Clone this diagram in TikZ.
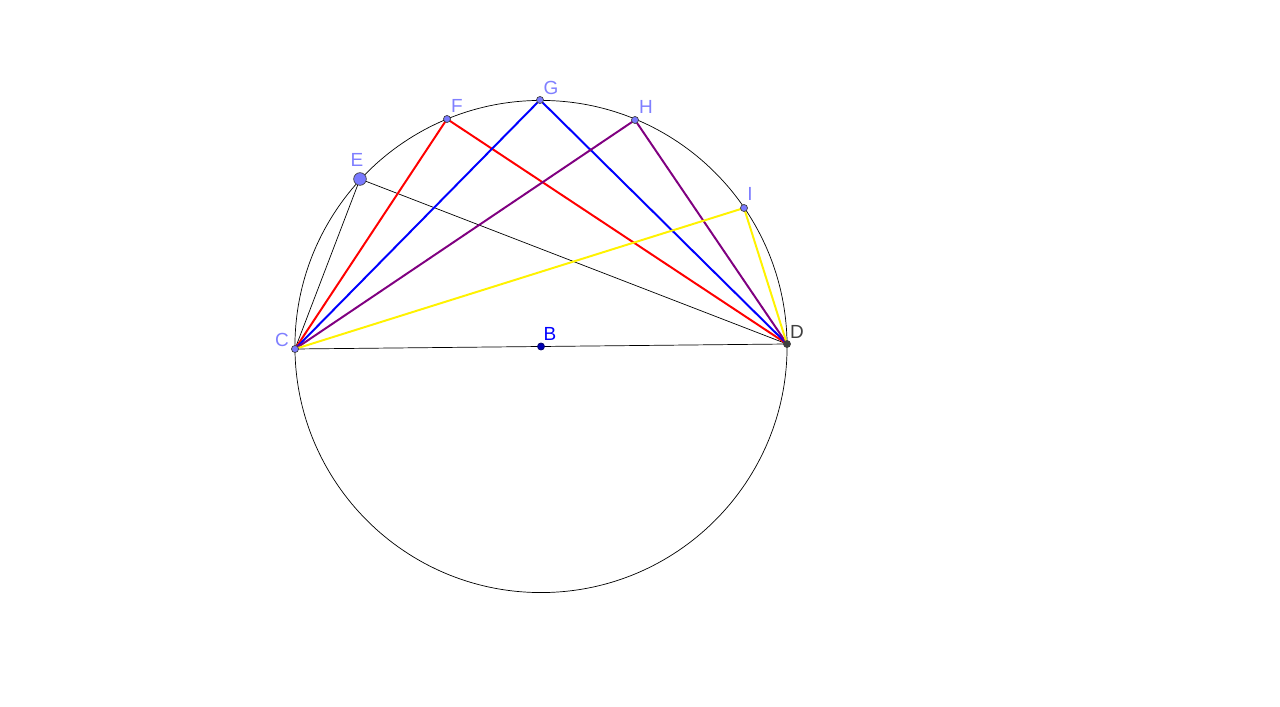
\documentclass[tikz,border=0pt]{standalone}
\usepackage{fontspec}
\setmainfont{Liberation Sans}
\usepackage{tikz}
\usetikzlibrary{positioning}

\definecolor{ptfill}{RGB}{122,122,255}
\definecolor{ptlabel}{RGB}{127,127,255}
\definecolor{ptdark}{RGB}{64,64,64}
\definecolor{ggpurple}{RGB}{128,0,128}

\tikzset{
  pt/.style={circle, draw=ptdark, fill=ptfill, line width=0.5pt, inner sep=0pt, minimum size=5pt},
  bigpt/.style={pt, minimum size=9pt},
  lbl/.style={text=ptlabel, font=\fontsize{13.5}{15}\selectfont, inner sep=0pt},
  seg/.style={line width=1.4pt},
  thinseg/.style={line width=0.5pt, black}
}

\begin{document}
\begin{tikzpicture}[x=0.025cm, y=-0.025cm]
            
            \useasboundingbox (0,0) rectangle (1280,707);
            
            % Circle
            
            \coordinate (B) at (541,346.5);
            \draw[thinseg] (B) circle[radius=6.15cm];
            
            % Points
            
            \coordinate (C) at (295,349);
            \coordinate (D) at (787,344);
            \coordinate (E) at (360,179);
            \coordinate (F) at (447,119);
            \coordinate (G) at (540,100);
            \coordinate (H) at (635,120);
            \coordinate (I) at (744,208);
            
            % Edges
            
            \draw[thinseg] (C) -- (D);
            \draw[thinseg] (C) -- (E);
            \draw[thinseg] (E) -- (D);
            \draw[seg, red] (C) -- (F);
            \draw[seg, red] (F) -- (D);
            \draw[seg, blue] (C) -- (G);
            \draw[seg, blue] (G) -- (D);
            \draw[seg, ggpurple] (C) -- (H);
            \draw[seg, ggpurple] (H) -- (D);
            \draw[seg, yellow] (C) -- (I);
            \draw[seg, yellow] (I) -- (D);
            
            % Point Marks
            
            \node[pt] (pC) at (C) {};
            \node[pt, fill=ptdark] (pD) at (D) {};
            \node[bigpt] (pE) at (E) {};
            \node[pt] (pF) at (F) {};
            \node[pt] (pG) at (G) {};
            \node[pt] (pH) at (H) {};
            \node[pt] (pI) at (I) {};
            \node[pt, fill=blue!70!black, draw=blue!40!black] (pB) at (B) {};
            
            % Labels
            
            \node[lbl] (lC) at (282,340) {C};
            \node[lbl, text=ptdark] (lD) at (797,332) {D};
            \node[lbl] (lE) at (357,160) {E};
            \node[lbl] (lF) at (457,106) {F};
            \node[lbl] (lG) at (551,88) {G};
            \node[lbl] (lH) at (646,107) {H};
            \node[lbl] (lI) at (750,194) {I};
            \node[lbl, text=blue] (lB) at (550,334) {B};
            
            \end{tikzpicture}
\end{document}
